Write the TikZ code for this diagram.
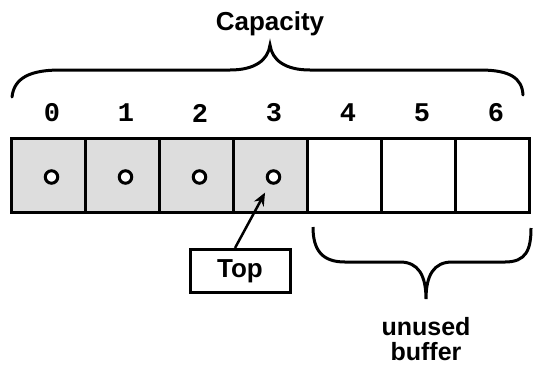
\documentclass[tikz,border=0pt]{standalone}
\usepackage{fontspec}
\setmainfont{Liberation Sans}
\setmonofont{Liberation Mono}
\usetikzlibrary{positioning,arrows.meta}
\definecolor{cellgray}{RGB}{221,221,221}

\begin{document}
\begin{tikzpicture}[x=1pt, y=-1pt, line width=3pt,
    cell/.style={draw, minimum size=74.5pt, inner sep=0pt},
    dot/.style={draw, circle, fill=white, line width=3pt, minimum size=12.5pt, inner sep=0pt},
    idx/.style={font=\fontsize{27}{29}\selectfont\bfseries\ttfamily},
    lbl/.style={font=\fontsize{26}{26}\selectfont\bfseries, align=center}]
        \useasboundingbox (0,0) rectangle (534,370);
        % cells
        \foreach \i in {0,...,3}
            \node[cell, fill=cellgray] (c\i) at ({48.5+74*\i},175.5) {};
        \foreach \i in {4,...,6}
            \node[cell] (c\i) at ({48.5+74*\i},175.5) {};
        \foreach \i in {0,...,3}
            \node[dot] (d\i) at ({51.5+74*\i},177) {};
        \foreach \i in {0,...,6}
            \node[idx] (n\i) at ({52+74*\i},113) {\i};
        % capacity brace
        \draw[line cap=round] (12,97) .. controls (14,78) and (30,70) .. (60,70) -- (230,70)
            .. controls (255,70) and (268,60) .. (270,45)
            .. controls (272,60) and (285,70) .. (310,70) -- (480,70)
            .. controls (510,70) and (522,78) .. (523,95);
        \node[lbl] (cap) at (270,24) {Capacity};
        % unused brace
        \draw (313,227) .. controls (313,250) and (322,262) .. (345,262) -- (400,262)
            .. controls (418,262) and (426,275) .. (426,299)
            .. controls (426,275) and (434,262) .. (452,262) -- (505,262)
            .. controls (526,262) and (531,250) .. (531,228);
        \node[lbl, font=\fontsize{25}{25}\selectfont\bfseries, inner sep=0pt] (unused) at (426,339) {unused\\buffer};
        % top pointer
        \node[draw, lbl, minimum width=100pt, minimum height=43pt] (top) at (240,271) {Top};
        \draw[line width=2.5pt, -{Stealth[length=13pt, width=11pt]}, shorten >=10pt]
            ([xshift=-5pt]top.north) -- (d3);
\end{tikzpicture}
\end{document}
